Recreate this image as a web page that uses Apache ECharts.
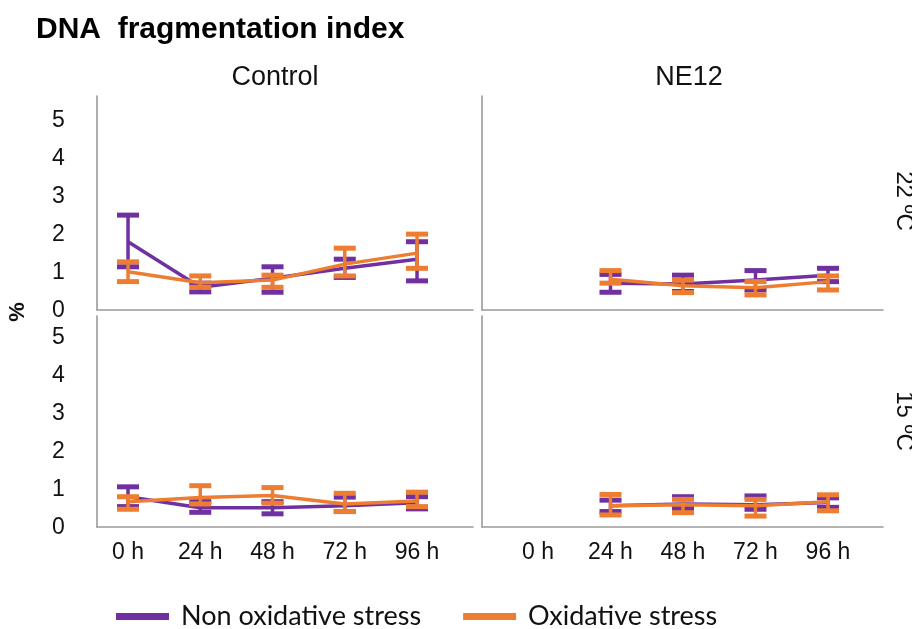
<!DOCTYPE html>
<html><head><meta charset="utf-8">
<script src="https://cdn.jsdelivr.net/npm/echarts@6/dist/echarts.min.js"></script>
<style>html,body{margin:0;padding:0;background:#fff}#c{width:912px;height:629px}</style>
</head><body><div id="c"></div>
<script>
// ---------- data ----------
const categories = ['0 h', '24 h', '48 h', '72 h', '96 h'];
const yTicks = [0, 1, 2, 3, 4, 5];
const seriesNames = ['Non oxidative stress', 'Oxidative stress'];
const columnTitles = ['Control', 'NE12'];
const rowTitles = ['22 ºC', '15 ºC'];

// Control, 22 ºC
const control22NonMean = [1.81, 0.61, 0.85, 1.11, 1.35];
const control22NonLow  = [1.15, 0.49, 0.48, 0.87, 0.78];
const control22NonHigh = [2.51, 0.72, 1.15, 1.35, 1.81];
const control22OxMean  = [1.02, 0.73, 0.80, 1.22, 1.51];
const control22OxLow   = [0.76, 0.61, 0.61, 0.91, 1.11];
const control22OxHigh  = [1.28, 0.91, 0.93, 1.64, 2.01];
// NE12, 22 ºC
const ne1222NonMean = [null, 0.72, 0.70, 0.80, 0.93];
const ne1222NonLow  = [null, 0.48, 0.50, 0.54, 0.76];
const ne1222NonHigh = [null, 0.95, 0.93, 1.05, 1.11];
const ne1222OxMean  = [null, 0.82, 0.65, 0.60, 0.76];
const ne1222OxLow   = [null, 0.72, 0.47, 0.41, 0.54];
const ne1222OxHigh  = [null, 1.05, 0.80, 0.76, 0.91];
// Control, 15 ºC
const control15NonMean = [0.81, 0.52, 0.52, 0.57, 0.65];
const control15NonLow  = [0.55, 0.40, 0.36, 0.42, 0.49];
const control15NonHigh = [1.07, 0.68, 0.68, 0.80, 0.81];
const control15OxMean  = [0.68, 0.79, 0.84, 0.62, 0.70];
const control15OxLow   = [0.48, 0.62, 0.64, 0.42, 0.55];
const control15OxHigh  = [0.81, 1.10, 1.05, 0.90, 0.93];
// NE12, 15 ºC
const ne1215NonMean = [null, 0.57, 0.62, 0.60, 0.66];
const ne1215NonLow  = [null, 0.42, 0.50, 0.48, 0.53];
const ne1215NonHigh = [null, 0.72, 0.81, 0.83, 0.78];
const ne1215OxMean  = [null, 0.57, 0.60, 0.57, 0.68];
const ne1215OxLow   = [null, 0.33, 0.39, 0.30, 0.44];
const ne1215OxHigh  = [null, 0.87, 0.74, 0.74, 0.86];

// ---------- styles ----------
const PURPLE = '#7030A0';
const ORANGE = '#ED7D31';
const FRAME = '#9a9a9a';
const FONT = 'Liberation Sans';

const panels = [
  {non: [control22NonMean, control22NonLow, control22NonHigh], ox: [control22OxMean, control22OxLow, control22OxHigh]},
  {non: [ne1222NonMean, ne1222NonLow, ne1222NonHigh], ox: [ne1222OxMean, ne1222OxLow, ne1222OxHigh]},
  {non: [control15NonMean, control15NonLow, control15NonHigh], ox: [control15OxMean, control15OxLow, control15OxHigh]},
  {non: [ne1215NonMean, ne1215NonLow, ne1215NonHigh], ox: [ne1215OxMean, ne1215OxLow, ne1215OxHigh]}
];

const dataGrids = [
  {left: 91.9, width: 361.25, top: 120.5, height: 190},
  {left: 501.75, width: 362.5, top: 120.5, height: 190},
  {left: 91.9, width: 361.25, top: 337.5, height: 190},
  {left: 501.75, width: 362.5, top: 337.5, height: 190}
];
const frameGrids = [
  {left: 97, width: 376, top: 96, height: 214},
  {left: 482, width: 401, top: 96, height: 214},
  {left: 97, width: 376, top: 316, height: 211},
  {left: 482, width: 401, top: 316, height: 211}
];

const grid = [], xAxis = [], yAxis = [], series = [];
dataGrids.forEach((g, i) => {
  grid.push(Object.assign({}, g));
  const bottomRow = i >= 2, leftCol = i % 2 === 0;
  xAxis.push({
    type: 'category', gridIndex: i, data: categories, boundaryGap: true,
    axisLine: {show: false}, axisTick: {show: false}, splitLine: {show: false},
    axisLabel: {show: bottomRow, fontFamily: FONT, fontSize: 23, color: '#111', margin: 14, interval: 0}
  });
  yAxis.push({
    type: 'value', gridIndex: i, min: yTicks[0], max: yTicks[yTicks.length - 1], interval: 1,
    axisLine: {show: false}, axisTick: {show: false}, splitLine: {show: false},
    axisLabel: {show: leftCol, fontFamily: FONT, fontSize: 23, color: '#111', margin: 27}
  });
});
frameGrids.forEach((g, i) => {
  grid.push(Object.assign({}, g));
  const lineStyle = {color: FRAME, width: 1.6};
  xAxis.push({type: 'value', gridIndex: 4 + i, min: 0, max: 1, axisLine: {show: true, lineStyle},
    axisTick: {show: false}, axisLabel: {show: false}, splitLine: {show: false}});
  yAxis.push({type: 'value', gridIndex: 4 + i, min: 0, max: 1, axisLine: {show: true, lineStyle},
    axisTick: {show: false}, axisLabel: {show: false}, splitLine: {show: false}});
});

function errorSeries(name, color, mean, low, high, gi, z) {
  const data = [];
  categories.forEach((c, k) => { if (low[k] != null) data.push([k, low[k], high[k]]); });
  return {
    type: 'custom', name, xAxisIndex: gi, yAxisIndex: gi, z, data,
    renderItem: function (params, api) {
      const top = api.coord([api.value(0), api.value(2)]);
      const bot = api.coord([api.value(0), api.value(1)]);
      const hw = 11;
      const st = {stroke: color, lineWidth: 5, lineCap: 'butt'};
      return {type: 'group', children: [
        {type: 'line', shape: {x1: top[0], y1: top[1], x2: bot[0], y2: bot[1]}, style: {stroke: color, lineWidth: 3.5}},
        {type: 'line', shape: {x1: top[0] - hw, y1: top[1], x2: top[0] + hw, y2: top[1]}, style: st},
        {type: 'line', shape: {x1: bot[0] - hw, y1: bot[1], x2: bot[0] + hw, y2: bot[1]}, style: st}
      ]};
    }
  };
}
function lineSeries(name, color, mean, gi, z) {
  return {type: 'line', name, xAxisIndex: gi, yAxisIndex: gi, z, data: mean,
    symbol: 'none', connectNulls: false, lineStyle: {color, width: 3.5}, itemStyle: {color}};
}
panels.forEach((p, i) => {
  series.push(errorSeries(seriesNames[0], PURPLE, p.non[0], p.non[1], p.non[2], i, 2));
  series.push(lineSeries(seriesNames[0], PURPLE, p.non[0], i, 3));
  series.push(errorSeries(seriesNames[1], ORANGE, p.ox[0], p.ox[1], p.ox[2], i, 4));
  series.push(lineSeries(seriesNames[1], ORANGE, p.ox[0], i, 5));
});

const chart = echarts.init(document.getElementById('c'), null, {renderer: 'canvas'});
chart.setOption({
  backgroundColor: '#fff',
  animation: false,
  title: [
    {text: 'DNA  fragmentation index', left: 31, top: 10,
     textStyle: {fontFamily: FONT, fontSize: 30, fontWeight: 'bold', color: '#000'}},
    {text: columnTitles[0], left: 270, top: 59, textAlign: 'center',
     textStyle: {fontFamily: FONT, fontSize: 27, fontWeight: 'normal', color: '#111'}},
    {text: columnTitles[1], left: 684, top: 59, textAlign: 'center',
     textStyle: {fontFamily: FONT, fontSize: 27, fontWeight: 'normal', color: '#111'}}
  ],
  legend: {
    left: 111, top: 598, itemWidth: 53, itemHeight: 7, itemGap: 42, icon: 'rect',
    data: [{name: seriesNames[0], itemStyle: {color: PURPLE}}, {name: seriesNames[1], itemStyle: {color: ORANGE}}],
    textStyle: {fontFamily: 'Lato', fontSize: 27, color: '#111', padding: [0, 0, 0, 7]}
  },
  graphic: [
    {type: 'text', x: 18, y: 312, rotation: Math.PI / 2,
     style: {text: '%', font: 'bold 22px "Liberation Sans"', fill: '#111', textAlign: 'center', textVerticalAlign: 'middle'}},
    {type: 'text', x: 904, y: 201, rotation: -Math.PI / 2,
     style: {text: rowTitles[0], font: '24px "Liberation Sans"', fill: '#111', textAlign: 'center', textVerticalAlign: 'middle'}},
    {type: 'text', x: 904, y: 421, rotation: -Math.PI / 2,
     style: {text: rowTitles[1], font: '24px "Liberation Sans"', fill: '#111', textAlign: 'center', textVerticalAlign: 'middle'}}
  ],
  grid, xAxis, yAxis, series
});
</script></body></html>
